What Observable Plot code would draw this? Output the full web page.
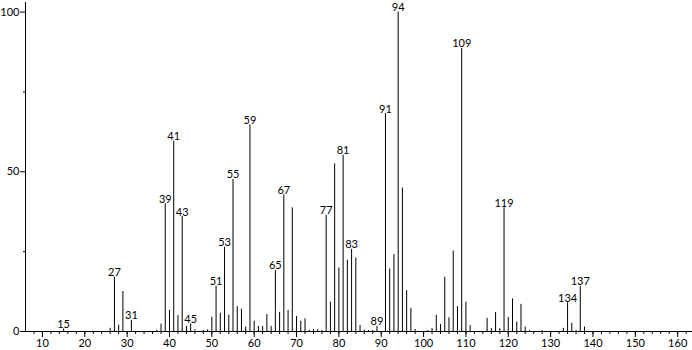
<!DOCTYPE html>
<html>
<head>
<meta charset="utf-8">
<script src="https://cdn.jsdelivr.net/npm/d3@7"></script>
<script src="https://cdn.jsdelivr.net/npm/@observablehq/plot@0.6"></script>
<style>
  html, body { margin: 0; padding: 0; background: #fff; }
  svg { display: block; }
</style>
</head>
<body>
<div id="chart"></div>
<script>
const mz = [15,26,27,28,29,31,37,38,39,40,41,42,43,44,45,46,48,49,50,51,52,53,54,55,56,57,58,59,60,61,62,63,64,65,66,67,68,69,70,71,72,73,74,75,76,77,78,79,80,81,82,83,84,85,86,87,88,89,91,92,93,94,95,96,97,98,101,102,103,104,105,106,107,108,109,110,111,115,116,117,118,119,120,121,122,123,124,125,128,133,134,135,136,137,138];
const intensity = [0.8,1.0,17,2.0,12.5,3.5,0.4,2.3,40,6.6,59.6,5.0,36,1.6,2.4,0.5,0.3,0.5,4.5,14.2,5.7,26.4,5.1,47.6,7.8,7.0,1.4,64.6,3.2,1.6,1.6,5.3,1.6,19.1,6.0,42.8,6.6,38.7,4.7,3.2,4.0,0.4,0.6,0.6,0.3,36.4,9.2,52.5,19.9,55.2,22.3,25.7,23,1.9,0.4,0.3,0.3,1.6,68.2,19.6,24.1,100,44.9,12.8,7.2,0.6,0.3,1.0,5.1,2.2,17,4.3,25.2,7.8,88.6,9.2,1.9,4.1,0.9,5.9,0.9,38.8,4.4,10.2,3.0,8.5,1.4,0.3,0.3,1.0,9.0,2.6,0.3,14.1,1.4];
const labeledPeaks = [15,27,31,39,41,43,45,51,53,55,59,65,67,77,81,83,89,91,94,109,119,134,137];
const xMajorTicks = [10,20,30,40,50,60,70,80,90,100,110,120,130,140,150,160];
const xMinorTicks = d3.range(8, 164, 2);
const yMajorTicks = [0,50,100];
const yMinorTicks = [25,75];

const peaks = mz.map((m, i) => ({mz: m, y: intensity[i]}));
const labels = peaks.filter(d => labeledPeaks.includes(d.mz));

const font = "Lato, 'DejaVu Sans', sans-serif";

const chart = Plot.plot({
  width: 692,
  height: 350,
  marginLeft: 25,
  marginRight: 0,
  marginTop: 2,
  marginBottom: 19,
  style: {fontFamily: font, fontSize: "11px", color: "#000", background: "#fff"},
  x: {domain: [6, 163.5], label: null},
  y: {domain: [0, 103], label: null},
  marks: [
    Plot.axisX(xMinorTicks, {tickSize: 3, text: null, stroke: "#000"}),
    Plot.axisX(xMajorTicks, {tickSize: 6, tickPadding: 2, stroke: "#000", fill: "#000", fontSize: 11, label: null}),
    Plot.axisY(yMinorTicks, {tickSize: 2, text: null, stroke: "#000"}),
    Plot.axisY(yMajorTicks, {tickSize: 5, tickPadding: 1, stroke: "#000", fill: "#000", fontSize: 11, label: null}),
    Plot.ruleY([0], {stroke: "#000"}),
    Plot.ruleX([6], {y1: 0, y2: 103, stroke: "#000"}),
    Plot.ruleX(peaks, {x: "mz", y1: 0, y2: "y", stroke: "#000", strokeWidth: 1}),
    Plot.text(labels, {x: "mz", y: "y", text: d => String(d.mz), lineAnchor: "bottom", dy: -1, fill: "#000", fontSize: 11, style: "letter-spacing:1.5px"})
  ]
});
document.getElementById("chart").appendChild(chart);
</script>
</body>
</html>
